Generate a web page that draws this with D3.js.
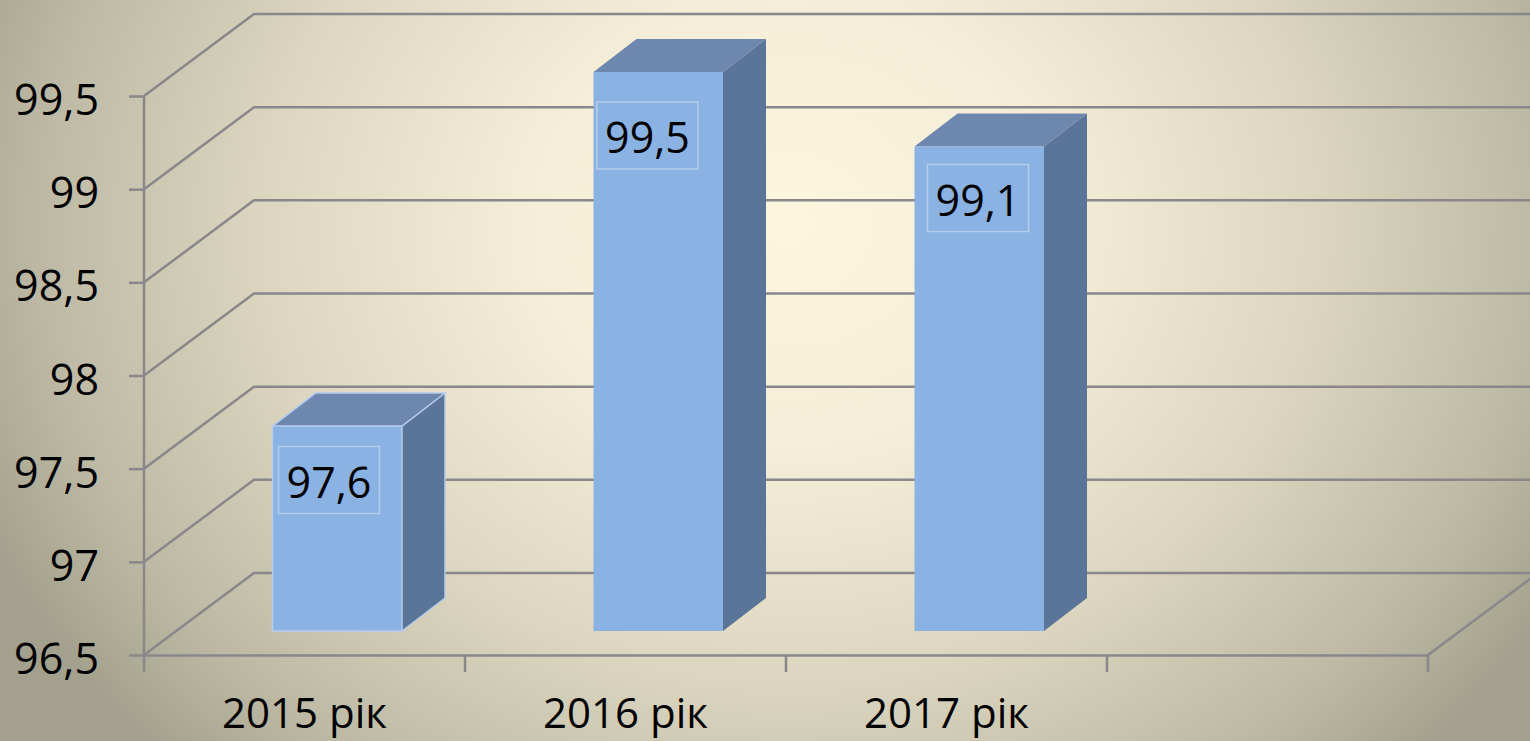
<!DOCTYPE html>
<html>
<head>
<meta charset="utf-8">
<script src="https://cdn.jsdelivr.net/npm/d3@7"></script>
<style>
  html, body { margin: 0; padding: 0; background: #c8c3ae; overflow: hidden; }
  text { font-family: "Open Sans", sans-serif; fill: #000; }
</style>
</head>
<body>
<div class="chart"></div>
<script>
// chart values
var categories = ["2015 рік", "2016 рік", "2017 рік", ""];
var values = [97.6, 99.5, 99.1];
var yTicks = [96.5, 97, 97.5, 98, 98.5, 99, 99.5];

var svgWidth = 1530;
var svgHeight = 741;

var lineColor = "#88888a";
var lineWidth = 2.5;
var fontSize = 43;

var svg = d3.select(".chart").append("svg")
  .attr("width", svgWidth)
  .attr("height", svgHeight)
  .style("display", "block");

// background glow
var grad = svg.append("defs").append("radialGradient")
  .attr("id", "bg")
  .attr("gradientUnits", "userSpaceOnUse")
  .attr("cx", 0).attr("cy", 0).attr("r", 1)
  .attr("gradientTransform", "translate(790,225) scale(880,760)");
[[0, "#fdf6df"], [0.3, "#f4edd7"], [0.6, "#dcd6c0"], [0.85, "#bdb9a4"], [1, "#a3a18d"]].forEach(function (s) {
  grad.append("stop").attr("offset", s[0]).attr("stop-color", s[1]);
});
svg.append("rect").attr("width", svgWidth).attr("height", svgHeight).attr("fill", "url(#bg)");

// scales, the front plane of the 3d box
var xScale = d3.scaleBand().domain(categories).range([144, 1428]);
var yScale = d3.scaleLinear().domain([96.5, 99.5]).range([655, 96]);

// how far the back wall sits from the front plane
var wallDx = 110;
var wallDy = -82;

// grid lines run along the side wall and then across the back wall
var gridGroup = svg.append("g");
gridGroup.selectAll("path")
  .data(yTicks)
  .enter()
  .append("path")
  .attr("fill", "none")
  .attr("stroke", lineColor)
  .attr("stroke-width", lineWidth)
  .attr("d", function (d) {
    var p = d3.path();
    p.moveTo(144, yScale(d));
    p.lineTo(144 + wallDx, yScale(d) + wallDy);
    p.lineTo(svgWidth, yScale(d) + wallDy);
    return p.toString();
  });

// floor edge on the right
svg.append("line")
  .attr("x1", 1428).attr("y1", yScale(96.5))
  .attr("x2", 1428 + wallDx).attr("y2", yScale(96.5) + wallDy)
  .attr("stroke", lineColor)
  .attr("stroke-width", lineWidth);

// axes
var leftAxis = d3.axisLeft(yScale)
  .tickValues(yTicks)
  .tickSize(15)
  .tickPadding(30)
  .tickFormat(function (d) { return String(d).replace(".", ","); });

var axisY = svg.append("g")
  .attr("transform", "translate(144, 0)")
  .call(leftAxis);
axisY.select(".domain").remove();
axisY.selectAll("line").attr("stroke", lineColor).attr("stroke-width", lineWidth);
axisY.selectAll("text")
  .attr("font-size", fontSize)
  .attr("font-family", "Open Sans")
  .attr("fill", "#000")
  .attr("dy", "0.43em");

svg.append("line")
  .attr("x1", 144).attr("y1", yScale(99.5))
  .attr("x2", 144).attr("y2", 672)
  .attr("stroke", lineColor)
  .attr("stroke-width", lineWidth);

var bottomAxis = d3.axisBottom(xScale).tickSize(0).tickPadding(43.5);
var axisX = svg.append("g")
  .attr("transform", "translate(0, 655)")
  .call(bottomAxis);
axisX.select(".domain").attr("stroke", lineColor).attr("stroke-width", lineWidth);
axisX.selectAll("text").attr("font-size", 42).attr("font-family", "Open Sans").attr("fill", "#000");

// category dividers under the floor
svg.append("g").selectAll("line")
  .data(categories)
  .enter()
  .append("line")
  .attr("x1", function (d) { return xScale(d) + xScale.bandwidth(); })
  .attr("x2", function (d) { return xScale(d) + xScale.bandwidth(); })
  .attr("y1", 655)
  .attr("y2", 672)
  .attr("stroke", lineColor)
  .attr("stroke-width", lineWidth);

// bars
var barInset = 128.5;
var barWidth = 129.5;
var barBase = 631;
var barDx = 43;
var barDy = -33;
// bars stand a little behind the front plane, same units per value
var barHeight = function (v) { return yScale(96.5) - yScale(v); };

var barGroups = svg.append("g").selectAll("g")
  .data(values)
  .enter()
  .append("g")
  .attr("transform", function (d, i) {
    return "translate(" + (xScale(categories[i]) + barInset) + "," + (barBase - barHeight(d)) + ")";
  });

// right side
barGroups.append("path")
  .attr("fill", "#5a7598")
  .attr("d", function (d) {
    var h = barHeight(d);
    return d3.line()([[barWidth, 0], [barWidth + barDx, barDy], [barWidth + barDx, h + barDy], [barWidth, h]]) + "Z";
  });

// top
barGroups.append("path")
  .attr("fill", "#6d87ae")
  .attr("d", d3.line()([[0, 0], [barDx, barDy], [barWidth + barDx, barDy], [barWidth, 0]]) + "Z");

// front
barGroups.append("rect")
  .attr("width", barWidth)
  .attr("height", barHeight)
  .attr("fill", "#8ab2e2");

// the first bar has a pale outline
barGroups.filter(function (d, i) { return i === 0; })
  .append("path")
  .attr("fill", "none")
  .attr("stroke", "#b4cdec")
  .attr("stroke-width", 1.5)
  .attr("d", function (d) {
    var h = barHeight(d);
    return "M0,0H" + barWidth + "V" + h + "H0Z"
      + "M0,0L" + barDx + "," + barDy + "H" + (barWidth + barDx) + "L" + barWidth + ",0"
      + "M" + (barWidth + barDx) + "," + barDy + "V" + (h + barDy) + "L" + barWidth + "," + h;
  });

// value labels with their framed boxes, placed by hand as in the original
var labelNudge = [{ x: 6, y: 20.5 }, { x: 3.5, y: 30 }, { x: 13, y: 18 }];
var boxWidth = 101;
var boxHeight = 67;

var labels = barGroups.append("g")
  .attr("transform", function (d, i) { return "translate(" + labelNudge[i].x + "," + labelNudge[i].y + ")"; });

labels.append("rect")
  .attr("width", boxWidth)
  .attr("height", boxHeight)
  .attr("fill", "none")
  .attr("stroke", "#b5cdea")
  .attr("stroke-width", 1.5);

labels.append("text")
  .attr("x", boxWidth / 2)
  .attr("y", boxHeight / 2)
  .attr("dy", "0.41em")
  .attr("text-anchor", "middle")
  .attr("font-size", fontSize)
  .text(function (d) { return String(d).replace(".", ","); });
</script>
</body>
</html>
